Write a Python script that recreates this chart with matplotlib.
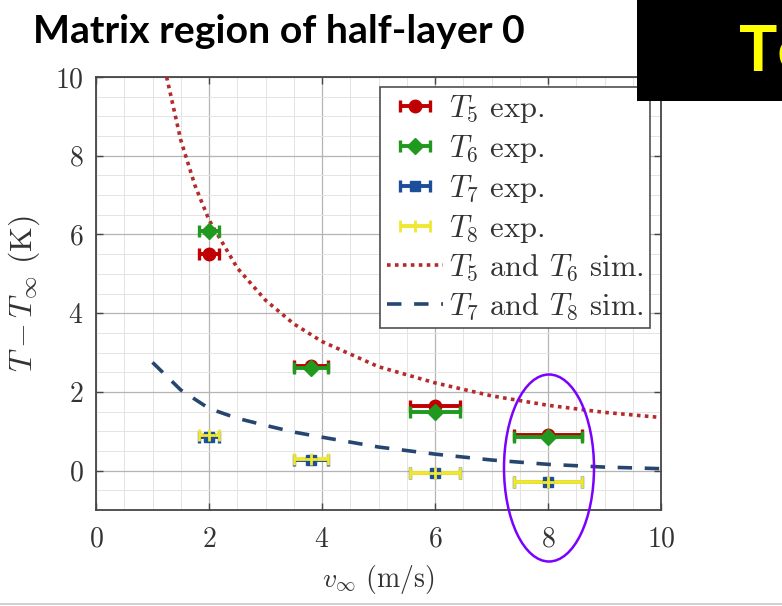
import numpy as np
import matplotlib
matplotlib.use("Agg")
import matplotlib.pyplot as plt
from matplotlib.patches import Ellipse, Rectangle
from matplotlib.lines import Line2D
from matplotlib.ticker import MultipleLocator

# ---- data -------------------------------------------------------------
v_exp = [2.0, 3.8, 6.0, 8.0]
v_err = [0.17, 0.3, 0.45, 0.6]

t5_exp = [5.5, 2.65, 1.65, 0.9]
t6_exp = [6.1, 2.62, 1.5, 0.85]
t7_exp = [0.85, 0.28, -0.05, -0.3]
t8_exp = [0.9, 0.3, -0.05, -0.3]

v_sim56 = [1.25, 1.5, 1.75, 2.0, 2.5, 3.0, 3.5, 4.0, 5.0, 6.0, 7.0, 8.0, 9.0, 10.0]
t56_sim = [10.0, 8.4, 7.25, 6.37, 5.15, 4.33, 3.73, 3.28, 2.64, 2.23, 1.9, 1.66, 1.48, 1.35]

v_sim78 = [1.0, 1.5, 2.0, 2.5, 3.0, 3.5, 4.0, 5.0, 6.0, 7.0, 8.0, 9.0, 10.0]
t78_sim = [2.75, 2.05, 1.58, 1.33, 1.15, 0.98, 0.85, 0.6, 0.42, 0.27, 0.16, 0.09, 0.05]

x_ticks = [0, 2, 4, 6, 8, 10]
y_ticks = [0, 2, 4, 6, 8, 10]

title_text = "Matrix region of half-layer 0"
banner_text = "Te"

# ---- style ------------------------------------------------------------
plt.rcParams["font.family"] = ["cmr10"]
plt.rcParams["mathtext.fontset"] = "cm"
plt.rcParams["axes.formatter.use_mathtext"] = True

W, H = 782, 606
fig = plt.figure(figsize=(W / 100, H / 100), dpi=100)
fig.patch.set_facecolor("white")

L, R, T, B = 96, 661, 77, 510
ax = fig.add_axes([L / W, 1 - B / H, (R - L) / W, (B - T) / H])

spine_c = "#454545"
for s in ax.spines.values():
    s.set_color(spine_c)
    s.set_linewidth(1.3)

ax.set_xlim(0, 10)
ax.set_ylim(-1, 10)
ax.set_xticks(x_ticks)
ax.set_yticks(y_ticks)
ax.xaxis.set_minor_locator(MultipleLocator(0.5))
ax.yaxis.set_minor_locator(MultipleLocator(0.5))
ax.grid(which="major", color="#b4b4b4", lw=0.9)
ax.grid(which="minor", color="#e4e4e4", lw=0.7)
ax.set_axisbelow(True)
ax.tick_params(which="major", direction="in", top=True, right=True,
               length=5, width=1, color=spine_c, labelsize=20,
               labelcolor="#333333")
ax.tick_params(axis="x", which="major", pad=12)
ax.tick_params(axis="y", which="major", pad=9)
ax.tick_params(which="minor", length=0)

# ---- simulation curves -------------------------------------------------
ax.plot(v_sim56, t56_sim, ls=(0, (1, 1.2)), lw=2.6, color="#b52a2a",
        label=r"$T_5$ and $T_6$ sim.", zorder=3)
ax.plot(v_sim78, t78_sim, ls=(0, (4, 3.5)), lw=2.6, color="#27466f",
        label=r"$T_7$ and $T_8$ sim.", zorder=3)

# ---- experimental points ----------------------------------------------
eb = dict(capsize=4.5, elinewidth=2.8, capthick=2.4, ls="none", zorder=4)
ax.errorbar(v_exp, t5_exp, xerr=v_err, color="#c00000", marker="o",
            ms=9, label=r"$T_5$ exp.", **eb)
ax.errorbar(v_exp, t6_exp, xerr=v_err, color="#1f9a1f", marker="D",
            ms=8, label=r"$T_6$ exp.", **eb)
ax.errorbar(v_exp, t7_exp, xerr=v_err, color="#1d4e9a", marker="s",
            ms=7, label=r"$T_7$ exp.", **eb)
ax.errorbar(v_exp, t8_exp, xerr=v_err, color="#f0e830", marker="+",
            ms=8, mew=2, label=r"$T_8$ exp.", **eb)

handles, labels = ax.get_legend_handles_labels()
order = [2, 3, 4, 5, 0, 1]
leg = ax.legend([handles[i] for i in order], [labels[i] for i in order],
                loc="upper right",
                bbox_to_anchor=((650 - L) / (R - L), (B - 87) / (B - T)),
                borderaxespad=0, fontsize=22, frameon=True, fancybox=False,
                framealpha=1, edgecolor="#505050", handlelength=1.85,
                handletextpad=0.2, labelspacing=0.26, borderpad=0.2)
leg.get_frame().set_linewidth(1.2)
for t in leg.get_texts():
    t.set_color("#333333")

ax.set_xlabel(r"$v_\infty$ (m/s)", fontsize=20, color="#333333")
ax.set_ylabel(r"$T - T_\infty$ (K)", fontsize=23, color="#333333")
ax.xaxis.set_label_coords(0.5, (B - 563) / (B - T))
ax.yaxis.set_label_coords((42 - L) / (R - L), 0.5)

# ---- slide decorations -------------------------------------------------
title = fig.text(33 / W, 1 - 43 / H, title_text, fontsize=28,
                 family=["Lato", "DejaVu Sans"], weight="bold",
                 color="black", ha="left", va="baseline")
fig.canvas.draw()
tw = title.get_window_extent().width
title.set_fontsize(28 * 492 / tw)

fig.add_artist(Rectangle((637 / W, 1 - 101 / H), (W - 637) / W, 101 / H,
                         transform=fig.transFigure, facecolor="black",
                         edgecolor="none", zorder=10))
fig.text(739 / W, 1 - 71 / H, banner_text, fontsize=46,
         family=["Lato", "DejaVu Sans"], weight="bold", color="#ffff00",
         ha="left", va="baseline", zorder=11)

fig.add_artist(Ellipse((549 / W, 1 - 468 / H), 90 / W, 187 / H,
                       transform=fig.transFigure, fill=False,
                       edgecolor="#7a00ff", lw=1.8, zorder=12))

fig.add_artist(Line2D([0, 1], [1 - 604 / H] * 2, transform=fig.transFigure,
                      color="#c8c8c8", lw=1.2, zorder=12))

fig.savefig("out.png", dpi=100)
